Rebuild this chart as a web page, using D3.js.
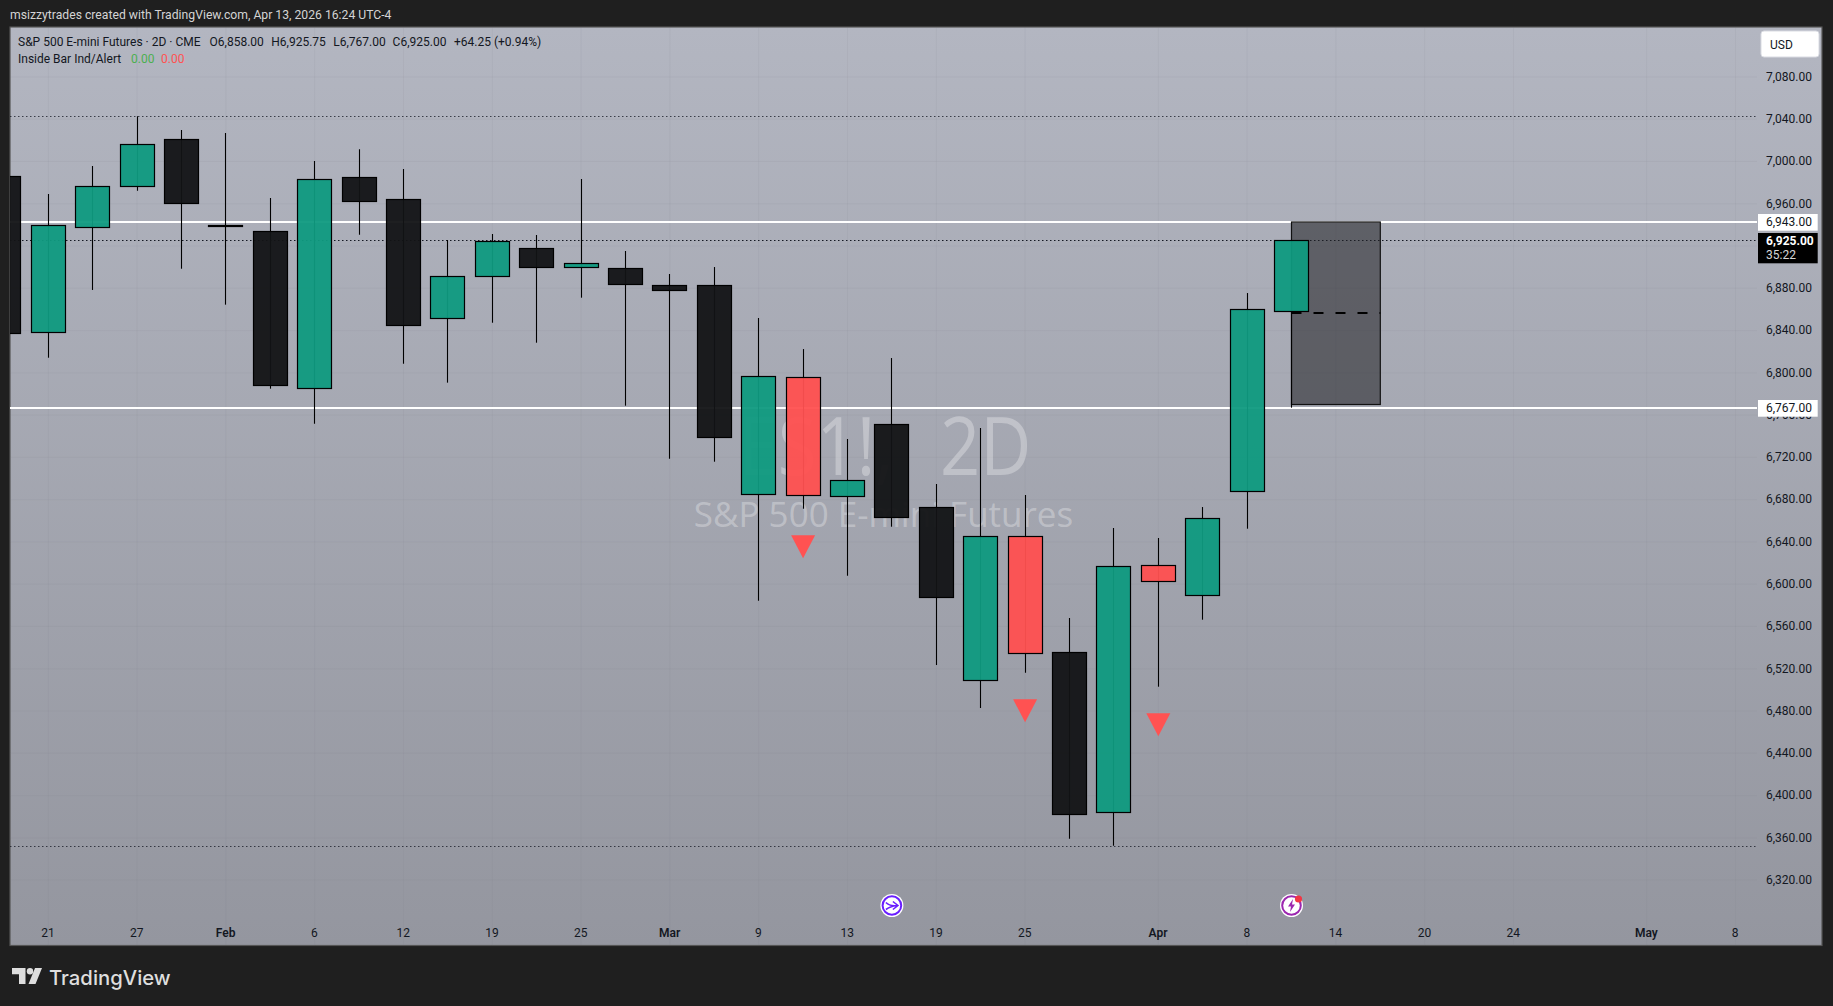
<!DOCTYPE html>
<html lang="en">
  <head>
    <meta charset="UTF-8" />
    <title>S&amp;P 500 E-mini Futures 2D</title>
    <script src="https://d3js.org/d3.v7.min.js"></script>
    <style>
      html, body { margin: 0; padding: 0; background: #1f1f1f; overflow: hidden; }
      svg { display: block; }
      text { font-family: Roboto, Arial, sans-serif; font-size: 12px; fill: #131722; }
    </style>
  </head>
  <body>
    <svg width="1833" height="1006"></svg>
    <script>
      // bar index -1 is the candle cut off at the left edge
      const barIndex = [-1, 0, 1, 2, 3, 4, 5, 6, 7, 8, 9, 10, 11, 12, 13, 14, 15, 16, 17, 18, 19, 20, 21, 22, 23, 24, 25, 26, 27, 28];
      const opens = [6986, 6838.3, 6937.7, 6976.5, 7021, 6939, 6933.9, 6785.4, 6985, 6964.2, 6851.6, 6891.3, 6917.8, 6899.9, 6898.9, 6882.8, 6882.8, 6685.1, 6795.8, 6683.2, 6751.3, 6672.8, 6509, 6645.3, 6535.5, 6384.1, 6617.9, 6589.5, 6687.9, 6858];
      const highs = [7000, 6969.2, 6995.7, 7042.7, 7029.8, 7026.9, 6965.4, 7000.4, 7011.5, 6992.9, 6925.7, 6931.4, 6930.4, 6983.4, 6915.3, 6893.5, 6900.1, 6851.9, 6822.5, 6737.4, 6814, 6694.8, 6747.8, 6684.4, 6568, 6653.2, 6643.7, 6673, 6875.5, 6925.75];
      const lows = [6820, 6814.3, 6878.4, 6972.3, 6898.5, 6864.5, 6785, 6751.9, 6930.7, 6808.6, 6790.7, 6847.4, 6828.5, 6871.1, 6768.9, 6718.7, 6715.9, 6584.4, 6671.4, 6608, 6654.4, 6523.5, 6482.8, 6516.2, 6359.2, 6352.5, 6503, 6566.4, 6652.5, 6767];
      const closes = [6837.5, 6939.6, 6976.5, 7016.2, 6960.4, 6938.2, 6788.2, 6983.1, 6962.3, 6845, 6891.3, 6924.5, 6899.9, 6903.6, 6883.8, 6878.1, 6739, 6796.7, 6684.1, 6698.3, 6663.3, 6587.6, 6645.3, 6534.6, 6382.3, 6616.9, 6602.7, 6662.3, 6860.1, 6925];
      const signalBars = [17, 22, 25];

      const gridPrices = [7080, 7040, 7000, 6960, 6920, 6880, 6840, 6800, 6760, 6720, 6680, 6640, 6600, 6560, 6520, 6480, 6440, 6400, 6360, 6320];
      // 6,920.00 sits under the black last price label, so it is not printed
      const priceTicks = [7080, 7040, 7000, 6960, 6880, 6840, 6800, 6760, 6720, 6680, 6640, 6600, 6560, 6520, 6480, 6440, 6400, 6360, 6320];
      const dateTickBars = [0, 2, 4, 6, 8, 10, 12, 14, 16, 18, 20, 22, 25, 27, 29, 31, 33, 36, 38];
      const dateTickLabels = ["21", "27", "Feb", "6", "12", "19", "25", "Mar", "9", "13", "19", "25", "Apr", "8", "14", "20", "24", "May", "8"];
      const monthLabels = ["Feb", "Mar", "Apr", "May"];

      const whiteLevels = [6943, 6767];
      const dottedLevels = [7042.7, 6925, 6352];

      const svg = d3.select("svg");

      const plot = { left: 10, right: 1822, top: 27, bottom: 945.5, axisX: 1757 };

      // 44.4px per bar, 1.0568px per point
      const x = d3.scaleLinear().domain([0, 38]).range([48.3, 1735.5]);
      const y = d3.scaleLinear().domain([6943, 6767]).range([221.7, 407.7]);
      const crisp = (v) => Math.floor(v) + 0.5;

      const defs = svg.append("defs");
      const grad = defs.append("linearGradient").attr("id", "bg").attr("x1", 0).attr("y1", 0).attr("x2", 0).attr("y2", 1);
      grad.append("stop").attr("offset", "0%").attr("stop-color", "#b3b6c1");
      grad.append("stop").attr("offset", "100%").attr("stop-color", "#94969f");
      defs.append("clipPath").attr("id", "plotClip").append("rect")
        .attr("x", plot.left).attr("y", plot.top)
        .attr("width", plot.axisX - plot.left).attr("height", plot.bottom - plot.top);

      svg.append("text").attr("x", 10).attr("y", 19).style("fill", "#d4d4d4").style("font-size", "12.2px")
        .text("msizzytrades created with TradingView.com, Apr 13, 2026 16:24 UTC-4");

      svg.append("rect")
        .attr("x", plot.left).attr("y", plot.top)
        .attr("width", plot.right - plot.left).attr("height", plot.bottom - plot.top)
        .attr("fill", "url(#bg)").attr("stroke", "#555").attr("stroke-width", 1.2);

      // grid
      const grid = svg.append("g").attr("clip-path", "url(#plotClip)");
      grid.selectAll(".v").data(dateTickBars).join("line")
        .attr("x1", (d) => x(d)).attr("x2", (d) => x(d))
        .attr("y1", plot.top).attr("y2", plot.bottom)
        .attr("stroke", "rgba(120,123,134,0.09)");
      grid.selectAll(".h").data(gridPrices).join("line")
        .attr("x1", plot.left).attr("x2", plot.axisX)
        .attr("y1", (d) => y(d)).attr("y2", (d) => y(d))
        .attr("stroke", "rgba(120,123,134,0.09)");

      // watermark
      svg.append("text").attr("transform", "translate(885,475) scale(0.88,1)").attr("text-anchor", "middle")
        .style("font-family", "'Open Sans', sans-serif").style("font-size", "80px").style("word-spacing", "32px")
        .style("fill", "rgba(255,255,255,0.3)").text("ES1!, 2D");
      svg.append("text").attr("x", 883.5).attr("y", 527).attr("text-anchor", "middle")
        .style("font-family", "'Open Sans', sans-serif").style("font-size", "35px")
        .style("fill", "rgba(255,255,255,0.3)").text("S&P 500 E-mini Futures");

      const chart = svg.append("g").attr("clip-path", "url(#plotClip)");

      chart.selectAll(".dotted").data(dottedLevels).join("line")
        .attr("x1", plot.left).attr("x2", plot.axisX)
        .attr("y1", (d) => crisp(y(d))).attr("y2", (d) => crisp(y(d)))
        .attr("stroke", "#131722").attr("stroke-dasharray", "1.5 2.5")
        .attr("stroke-opacity", (d) => d === 6925 ? 1 : 0.75);

      chart.selectAll(".white").data(whiteLevels).join("line")
        .attr("x1", plot.left).attr("x2", plot.axisX)
        .attr("y1", (d) => Math.round(y(d))).attr("y2", (d) => Math.round(y(d)))
        .attr("stroke", "#fff").attr("stroke-width", 2);

      // range box drawn from the last bar
      const boxTop = 6943, boxBottom = 6770.2, boxMid = 6856.5;
      chart.append("rect")
        .attr("x", crisp(x(28))).attr("width", x(30) - x(28))
        .attr("y", Math.round(y(boxTop))).attr("height", crisp(y(boxBottom)) - Math.round(y(boxTop)))
        .attr("fill", "rgba(33,33,38,0.56)").attr("stroke", "#111").attr("stroke-width", 1.2);
      chart.append("line")
        .attr("x1", x(28)).attr("x2", x(30))
        .attr("y1", Math.round(y(boxMid))).attr("y2", Math.round(y(boxMid)))
        .attr("stroke", "#000").attr("stroke-width", 2).attr("stroke-dasharray", "10 12");

      const bars = barIndex.map((d, i) => ({ i: d, o: opens[i], h: highs[i], l: lows[i], c: closes[i] }));
      const barColor = (d) => signalBars.includes(d.i) ? "#ff5050" : d.c >= d.o ? "#0f9a80" : "#121315";

      chart.selectAll(".wick").data(bars).join("line")
        .attr("x1", (d) => crisp(x(d.i))).attr("x2", (d) => crisp(x(d.i)))
        .attr("y1", (d) => y(d.h)).attr("y2", (d) => y(d.l))
        .attr("stroke", "#000").attr("stroke-width", 1.1);

      chart.selectAll(".body").data(bars).join("rect")
        .attr("x", (d) => crisp(x(d.i) - 17)).attr("width", 34)
        .attr("y", (d) => crisp(y(Math.max(d.o, d.c))))
        .attr("height", (d) => crisp(y(Math.min(d.o, d.c))) - crisp(y(Math.max(d.o, d.c))))
        .attr("fill", barColor).attr("fill-opacity", 0.95)
        .attr("stroke", "#000").attr("stroke-width", 1.2);

      // inside bar alert triangles sit a fixed distance under the low
      chart.selectAll(".signal").data(bars.filter((d) => signalBars.includes(d.i))).join("polygon")
        .attr("points", (d) => {
          const cx = x(d.i), top = y(d.l) + 26.5;
          return [[cx - 12, top], [cx + 12, top], [cx, top + 23]].join(" ");
        })
        .attr("fill", "#ff5252");

      // event icons
      const iconY = 905.5;
      const clock = svg.append("g").attr("transform", `translate(${x(19)},${iconY})`);
      clock.append("circle").attr("r", 11.5).attr("fill", "#fff");
      clock.append("circle").attr("r", 9.3).attr("fill", "none").attr("stroke", "#6a1fff").attr("stroke-width", 2);
      clock.append("path").attr("d", "M-6,-3 Q-2,1 5,0 M-6,4 Q-2,1 5,0 M1,-4 L6,0 L1,4")
        .attr("fill", "none").attr("stroke", "#6a1fff").attr("stroke-width", 1.6);
      const bolt = svg.append("g").attr("transform", `translate(${x(28)},${iconY})`);
      bolt.append("circle").attr("r", 11.5).attr("fill", "#fff");
      bolt.append("circle").attr("r", 9.3).attr("fill", "none").attr("stroke", "#9c27b0").attr("stroke-width", 2);
      bolt.append("path").attr("d", "M1.5,-6.5 L-3.5,1 L-0.5,1 L-1.5,6.5 L3.5,-1 L0.5,-1 Z").attr("fill", "#9c27b0");
      bolt.append("circle").attr("cx", 7).attr("cy", -6.5).attr("r", 3.6).attr("fill", "#f23645");

      // axes
      const priceAxis = svg.append("g").attr("transform", "translate(1766,-0.5)")
        .call(d3.axisRight(y).tickValues(priceTicks).tickSize(0).tickPadding(0).tickFormat(d3.format(",.2f")));
      priceAxis.select(".domain").remove();

      const dateAxis = svg.append("g").attr("transform", "translate(-0.8,928.5)")
        .call(d3.axisBottom(x).tickValues(dateTickBars).tickSize(0).tickPadding(0)
          .tickFormat((d) => dateTickLabels[dateTickBars.indexOf(d)]));
      dateAxis.select(".domain").remove();
      dateAxis.selectAll("text")
        .style("font-weight", (d, i) => monthLabels.includes(dateTickLabels[i]) ? 600 : 400);
      svg.selectAll(".tick text").style("font-family", "Roboto, Arial, sans-serif").style("font-size", "12px").style("fill", "#131722");

      // price labels on the axis
      const labels = svg.append("g");
      labels.selectAll("rect").data(whiteLevels).join("rect")
        .attr("x", 1758).attr("width", 59.7)
        .attr("y", (d) => y(d) - 7.7).attr("height", 16.7)
        .attr("fill", "#fff");
      labels.selectAll("text").data(whiteLevels).join("text")
        .attr("x", 1766).attr("y", (d) => y(d) + 4.4)
        .text((d) => d3.format(",.2f")(d));
      labels.append("rect").attr("x", 1758).attr("y", 233).attr("width", 59.7).attr("height", 30.3).attr("fill", "#000");
      labels.append("text").attr("x", 1766).attr("y", 245).style("fill", "#fff").style("font-weight", 700)
        .text(d3.format(",.2f")(closes[closes.length - 1]));
      labels.append("text").attr("x", 1766).attr("y", 259).style("fill", "#d6d6d6").text("35:22");

      svg.append("rect").attr("x", 1761).attr("y", 31).attr("width", 58).attr("height", 26).attr("rx", 3)
        .attr("fill", "#fff").attr("stroke", "#d9dbe2");
      svg.append("text").attr("x", 1770).attr("y", 48.5).text("USD");

      // legend
      const legendParts = [
        [18, "S&P 500 E-mini Futures · 2D · CME"],
        [209.6, "O6,858.00"],
        [271.3, "H6,925.75"],
        [333.3, "L6,767.00"],
        [392.6, "C6,925.00"],
        [454, "+64.25 (+0.94%)"],
      ];
      svg.append("g").selectAll("text").data(legendParts).join("text")
        .attr("x", (d) => d[0]).attr("y", 46).text((d) => d[1]);
      svg.append("text").attr("x", 18).attr("y", 63).text("Inside Bar Ind/Alert");
      svg.append("text").attr("x", 131).attr("y", 63).style("fill", "#4caf50").text("0.00");
      svg.append("text").attr("x", 161).attr("y", 63).style("fill", "#ff5252").text("0.00");

      // footer logo
      const logo = svg.append("g").attr("transform", "translate(12,968)").attr("fill", "#dedede");
      logo.append("path").attr("d", "M0,0 H13.5 V16 H7 V6.2 H0 Z");
      logo.append("circle").attr("cx", 18).attr("cy", 3.2).attr("r", 3.2);
      logo.append("path").attr("d", "M23,0 H30 L23.5,16 H16.5 Z");
      svg.append("text").attr("x", 49).attr("y", 984.5).style("font-family", "Inter, Roboto, sans-serif")
        .style("font-size", "20.3px").style("font-weight", 500).style("fill", "#dedede").text("TradingView");
    </script>
  </body>
</html>
